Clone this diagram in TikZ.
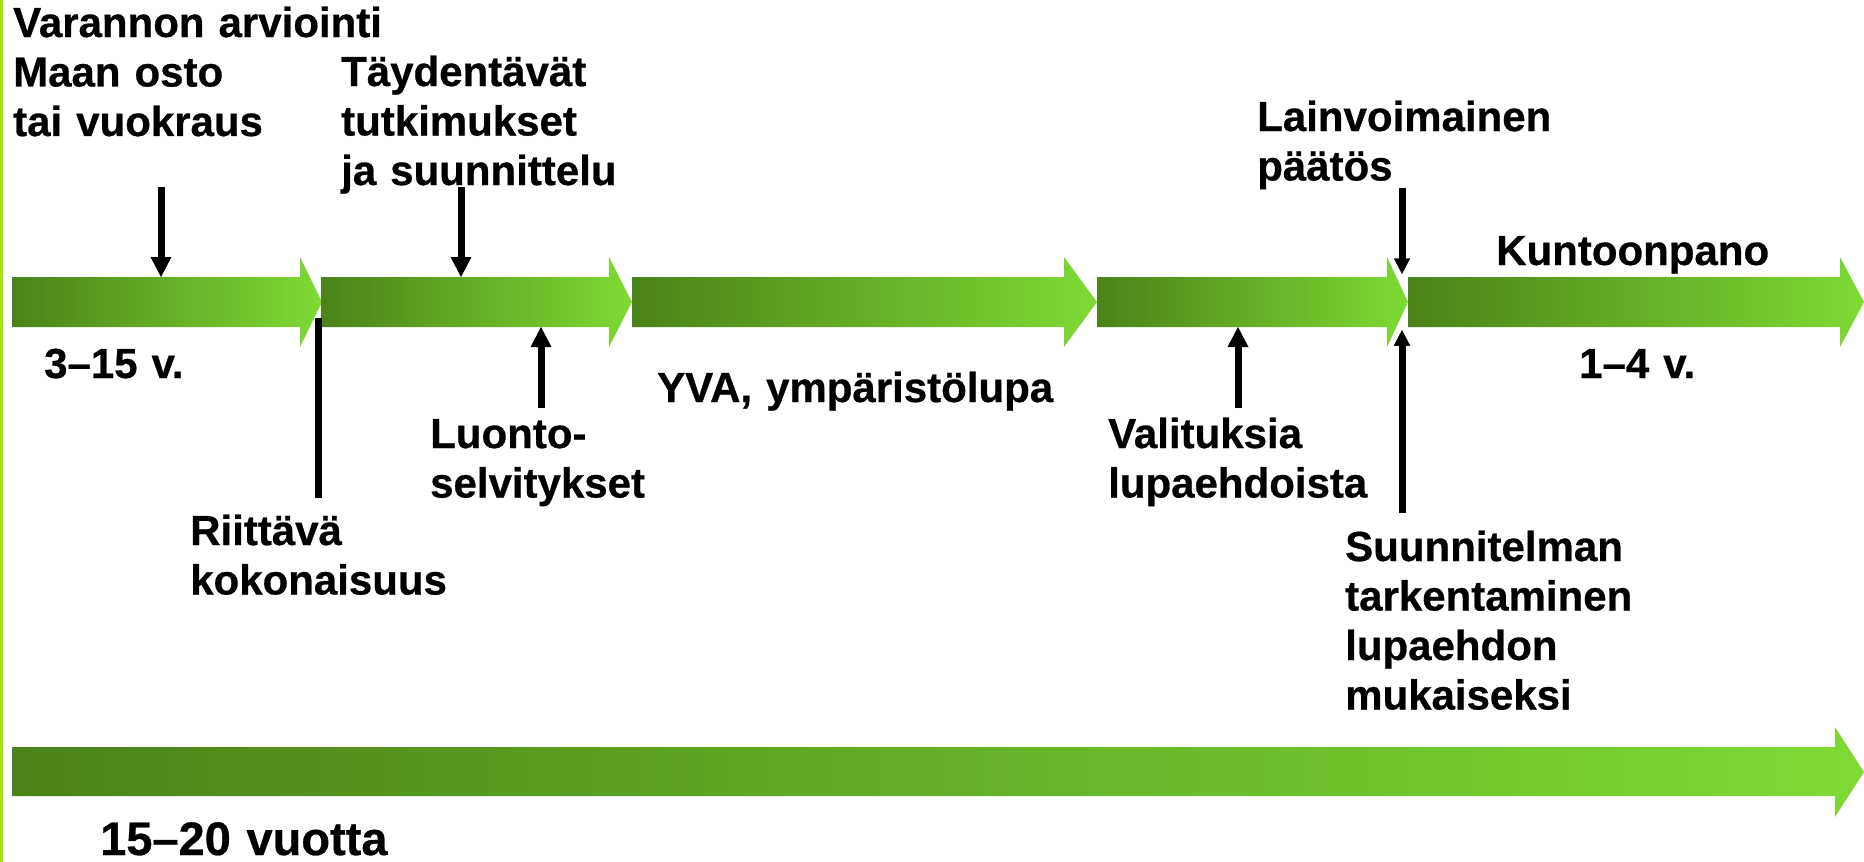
\documentclass[tikz,border=0pt]{standalone}
\usepackage{fontspec}
\setmainfont{Liberation Sans}[BoldFont={Liberation Sans Bold}, BoldFeatures={FakeBold=0.6}]
\usetikzlibrary{calc}
\definecolor{gdark}{RGB}{74,131,25}
\definecolor{glight}{RGB}{126,218,52}
\definecolor{limeedge}{RGB}{170,226,0}
\begin{document}
\begin{tikzpicture}[x=1pt,y=-1pt,
  lab/.style={font=\fontsize{42}{49.5}\selectfont\bfseries, inner sep=0pt, anchor=base west, align=left, text width=520pt},
  biglab/.style={font=\fontsize{47}{55}\selectfont\bfseries, inner sep=0pt, anchor=base west, align=left, text width=520pt},
  bar/.style={left color=gdark, right color=glight},
  shaft/.style={line width=7pt, black},
  tiphead/.style={fill=black},
  tiphalo/.style={fill=black, draw=white, line width=2.5pt, line join=miter}]
\useasboundingbox (0,0) rectangle (1864,862);
\fill[white] (0,0) rectangle (1864,862);
\fill[limeedge] (0,0) rectangle (3,862);

% green phase arrows
\shade[bar] (12,277) -- (300,277) -- (300,257) -- (322,302) -- (300,347) -- (300,327) -- (12,327) -- cycle;
\shade[bar] (321,277) -- (609,277) -- (609,257) -- (632,302) -- (609,347) -- (609,327) -- (321,327) -- cycle;
\shade[bar] (632,277) -- (1064,277) -- (1064,257) -- (1097,302) -- (1064,347) -- (1064,327) -- (632,327) -- cycle;
\shade[bar] (1097,277) -- (1387,277) -- (1387,257) -- (1408,302) -- (1387,347) -- (1387,327) -- (1097,327) -- cycle;
\shade[bar] (1408,277) -- (1840,277) -- (1840,257) -- (1864,302) -- (1840,347) -- (1840,327) -- (1408,327) -- cycle;
% overall arrow
\shade[bar] (12,747) -- (1835,747) -- (1835,727) -- (1864,772) -- (1835,817) -- (1835,796) -- (12,796) -- cycle;

% labels
\node[lab] (varannon) at (13,37) {Varannon arviointi\\Maan osto\\tai vuokraus};
\node[lab] (taydent) at (341,86) {Täydentävät\\tutkimukset\\ja suunnittelu};
\node[lab] (lainv) at (1257,131) {Lainvoimainen\\päätös};
\node[lab] (kunto) at (1496,265) {Kuntoonpano};
\node[lab] (v315) at (44,378) {3–15 v.};
\node[lab] (v14) at (1579,378) {1–4 v.};
\node[lab] (yva) at (657,402) {YVA, ympäristölupa};
\node[lab] (luonto) at (430,448) {Luonto-\\selvitykset};
\node[lab] (valit) at (1108,448) {Valituksia\\lupaehdoista};
\node[lab] (riitt) at (190,545) {Riittävä\\kokonaisuus};
\node[lab] (suunn) at (1345,561) {Suunnitelman\\tarkentaminen\\lupaehdon\\mukaiseksi};
\node[biglab] (vuotta) at (100,855) {15–20 vuotta};

% connector end points
\coordinate (a1s) at (161,187); \coordinate (a1t) at (161,277);
\coordinate (a2s) at (461,187); \coordinate (a2t) at (461,277);
\coordinate (a3s) at (541,408); \coordinate (a3t) at (541,327);
\coordinate (a4s) at (1238,408); \coordinate (a4t) at (1238,327);
\coordinate (a5s) at (1402,188); \coordinate (a5t) at (1402,277);
\coordinate (a6s) at (1402,513); \coordinate (a6t) at (1402,327);
\coordinate (r1s) at (318,318); \coordinate (r1t) at (318,498);

% down arrows
\fill[tiphead] (a1t) -- ++(-10.5,-20) -- ++(21,0) -- cycle;
\draw[shaft] (a1s) -- ($(a1t)+(0,-17)$);
\fill[tiphead] (a2t) -- ++(-10.5,-20) -- ++(21,0) -- cycle;
\draw[shaft] (a2s) -- ($(a2t)+(0,-17)$);
\filldraw[tiphalo] (a5t) -- ++(-10.5,-20) -- ++(21,0) -- cycle;
\draw[shaft] (a5s) -- ($(a5t)+(0,-17)$);
% up arrows
\fill[tiphead] (a3t) -- ++(-10.5,20) -- ++(21,0) -- cycle;
\draw[shaft] (a3s) -- ($(a3t)+(0,17)$);
\fill[tiphead] (a4t) -- ++(-10.5,20) -- ++(21,0) -- cycle;
\draw[shaft] (a4s) -- ($(a4t)+(0,17)$);
\filldraw[tiphalo] (a6t) -- ++(-10.5,20) -- ++(21,0) -- cycle;
\draw[shaft] (a6s) -- ($(a6t)+(0,17)$);
% plain line
\draw[shaft] (r1s) -- (r1t);
\end{tikzpicture}
\end{document}
